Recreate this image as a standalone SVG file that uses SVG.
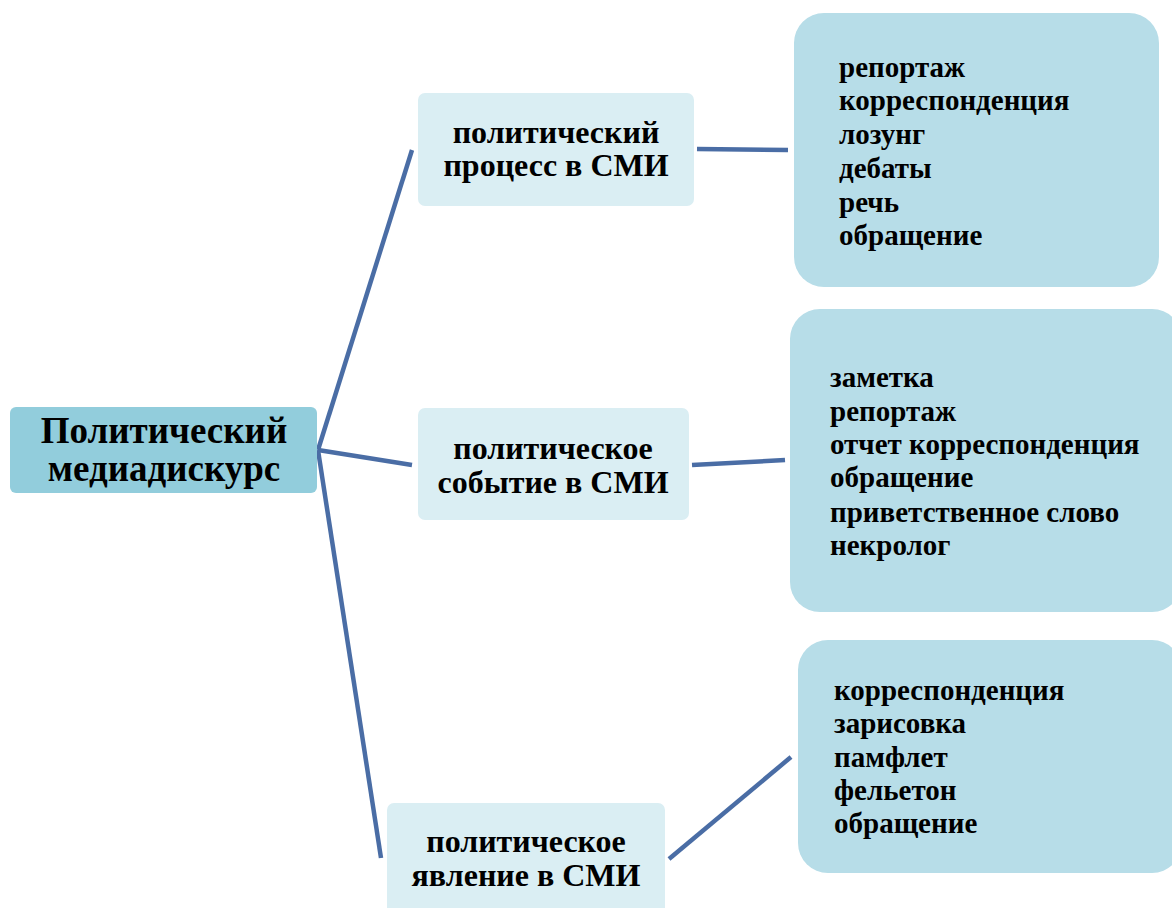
<svg xmlns="http://www.w3.org/2000/svg" width="1172" height="908" viewBox="0 0 1172 908">
<style>
.root{fill:#92CDDC}
.mid{fill:#DAEEF3}
.leaf{fill:#B7DDE8}
.conn{stroke:#4A6DA5;stroke-width:4.5;fill:none;stroke-linecap:butt}
text{font-family:"Liberation Serif","Times New Roman",serif;font-weight:bold;fill:#000}
.t1{font-size:37px;text-anchor:middle}
.t2{font-size:32px;text-anchor:middle}
.t3{font-size:29px}
</style>
<rect width="1172" height="908" fill="#FFFFFF"/>
<g id="connectors">
<line class="conn" x1="318" y1="450" x2="412" y2="150"/>
<line class="conn" x1="318" y1="450" x2="412" y2="465"/>
<line class="conn" x1="318" y1="450" x2="381" y2="858"/>
<line class="conn" x1="697" y1="149" x2="788" y2="150"/>
<line class="conn" x1="692" y1="465" x2="785" y2="460"/>
<line class="conn" x1="669" y1="859" x2="791" y2="757"/>
</g>
<g id="root">
<rect class="root" x="10" y="407" width="307" height="86" rx="6"/>
<text class="t1" x="164" y="443">Политический</text>
<text class="t1" x="164" y="481">медиадискурс</text>
</g>
<g id="process">
<rect class="mid" x="418" y="93" width="276" height="113" rx="7"/>
<text class="t2" x="556" y="143">политический</text>
<text class="t2" x="556" y="176">процесс в СМИ</text>
</g>
<g id="event">
<rect class="mid" x="418" y="408" width="271" height="112" rx="7"/>
<text class="t2" x="553" y="459">политическое</text>
<text class="t2" x="553" y="493">событие в СМИ</text>
</g>
<g id="phenomenon">
<rect class="mid" x="387" y="803" width="278" height="120" rx="7"/>
<text class="t2" x="526" y="852">политическое</text>
<text class="t2" x="526" y="886">явление в СМИ</text>
</g>
<g id="genres1">
<rect class="leaf" x="794" y="13" width="365" height="274" rx="30"/>
<text class="t3" x="839" y="77">репортаж</text>
<text class="t3" x="839" y="110">корреспонденция</text>
<text class="t3" x="839" y="144">лозунг</text>
<text class="t3" x="839" y="178">дебаты</text>
<text class="t3" x="839" y="212">речь</text>
<text class="t3" x="839" y="245">обращение</text>
</g>
<g id="genres2">
<rect class="leaf" x="790" y="309" width="392" height="303" rx="30"/>
<text class="t3" x="830" y="387">заметка</text>
<text class="t3" x="830" y="421">репортаж</text>
<text class="t3" x="830" y="454">отчет корреспонденция</text>
<text class="t3" x="830" y="487">обращение</text>
<text class="t3" x="830" y="522">приветственное слово</text>
<text class="t3" x="830" y="555">некролог</text>
</g>
<g id="genres3">
<rect class="leaf" x="798" y="640" width="384" height="233" rx="30"/>
<text class="t3" x="834" y="700">корреспонденция</text>
<text class="t3" x="834" y="733">зарисовка</text>
<text class="t3" x="834" y="767">памфлет</text>
<text class="t3" x="834" y="800">фельетон</text>
<text class="t3" x="834" y="833">обращение</text>
</g>
</svg>
